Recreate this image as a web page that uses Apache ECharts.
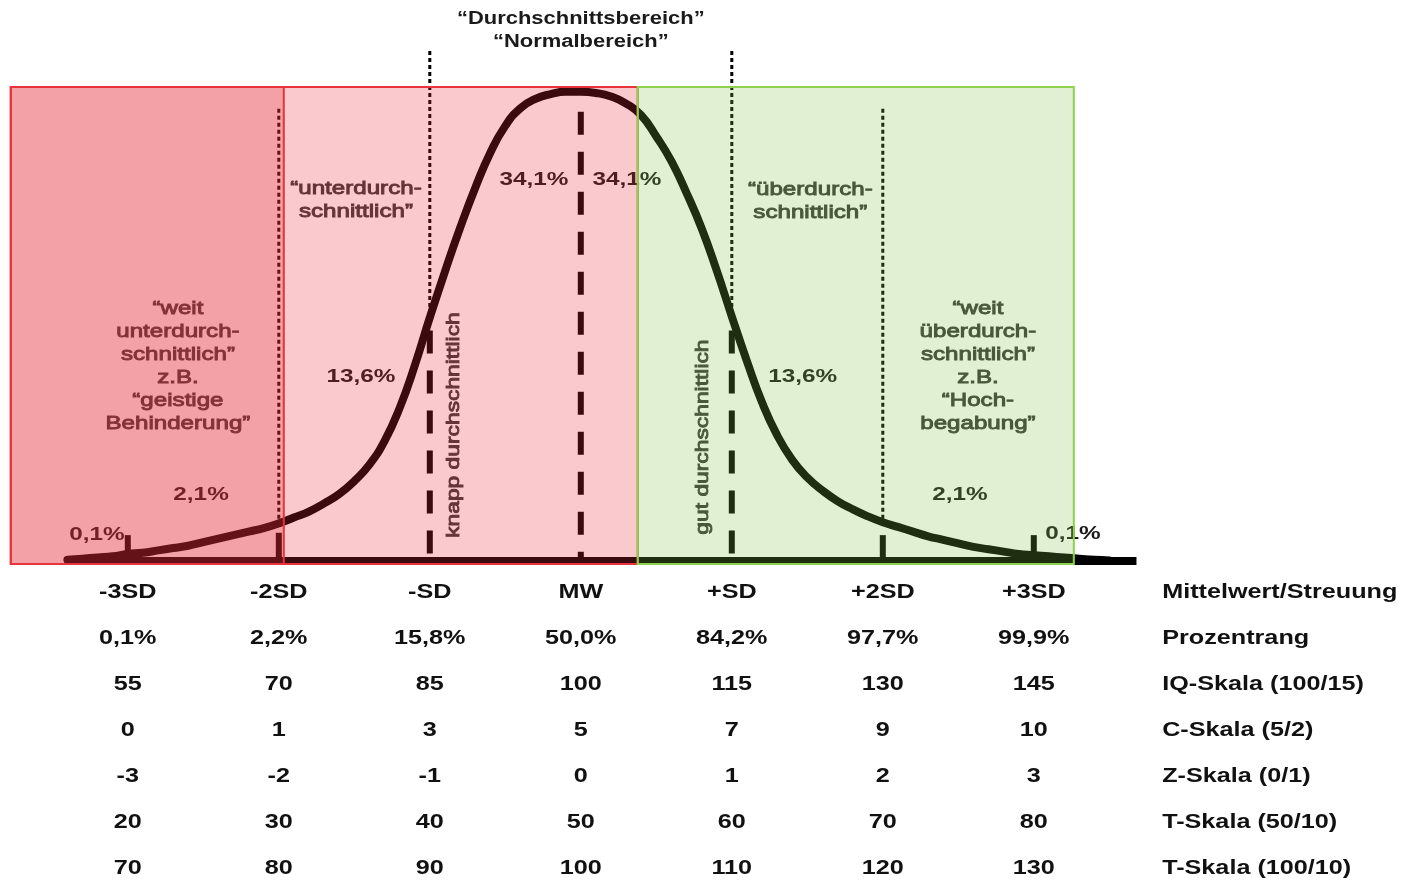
<!DOCTYPE html>
<html><head><meta charset="utf-8">
<script src="https://cdn.jsdelivr.net/npm/echarts@6/dist/echarts.min.js"></script>
<style>html,body{margin:0;padding:0;background:#fff;} #c{width:1404px;height:881px;}</style>
</head><body><div id="c"></div>
<script>
// ---------------- data ----------------
const sdPositions = [-3, -2, -1, 0, 1, 2, 3];

// curve (x in SD units, y as density)
const curveZ = [-3.4,-3.3,-3.2,-3.1,-3.0,-2.9,-2.8,-2.7,-2.6,-2.5,-2.4,-2.3,-2.2,-2.1,-2.0,-1.9,-1.8,-1.7,-1.6,-1.5,-1.4,-1.3,-1.2,-1.1,-1.0,
  -0.9,-0.8,-0.7,-0.6,-0.5,-0.4,-0.3,-0.2,-0.1,0,
  0.1,0.2,0.3,0.4,0.5,0.6,0.7,0.8,0.9,1.0,1.1,1.2,1.3,1.4,1.5,1.6,1.7,1.8,1.9,2.0,
  2.1,2.2,2.3,2.4,2.5,2.6,2.7,2.8,2.9,3.0,3.1,3.2,3.3,3.4,3.5];
const curveDensity = [0.001,0.002,0.003,0.004,0.006,0.007,0.009,0.011,0.013,0.016,0.019,0.022,0.025,0.028,0.032,0.037,0.042,0.049,0.057,0.068,0.082,0.102,0.130,0.166,0.207,
  0.246,0.283,0.317,0.347,0.370,0.385,0.393,0.397,0.399,0.399,
  0.398,0.395,0.389,0.379,0.361,0.340,0.313,0.283,0.247,0.208,0.170,0.135,0.107,0.086,0.071,0.060,0.051,0.044,0.038,0.033,
  0.029,0.025,0.021,0.018,0.015,0.012,0.010,0.008,0.006,0.005,0.004,0.003,0.002,0.001,0.0005];

const baselineExtent = [-3.4, 3.68];

// shaded regions [fromSD, toSD]
const regionRanges = [[-3.775, 0.377], [-3.775, -1.967], [0.377, 3.265]];
const regionHeight = [-0.0026, 0.403];

// guide lines [sd, fromDensity, toDensity]
const dottedGuides = [[-1, 0.21, 0.435], [1, 0.21, 0.435], [-2, 0.03, 0.386], [2, 0.03, 0.386]];
const dashedGuides = [[0, 0.382, 0], [-1, 0.196, 0], [1, 0.196, 0]];
const tickGuides = [[-3, 0.022, 0], [-2, 0.024, 0], [2, 0.022, 0], [3, 0.022, 0]];

// labels [text, sd, density]
const headerLabels = [['“Durchschnittsbereich”', 0, 0.4609], ['“Normalbereich”', 0, 0.4413]];
const percentLabels = [
  ['34,1%', -0.31, 0.324], ['34,1%', 0.306, 0.324],
  ['13,6%', -1.456, 0.1565], ['13,6%', 1.47, 0.1565],
  ['2,1%', -2.515, 0.0561], ['2,1%', 2.511, 0.0561],
  ['0,1%', -3.204, 0.0221], ['0,1%', 3.259, 0.023]
];
const categoryLabels = [
  ['“unterdurch-\nschnittlich”', -1.489, 0.3070],
  ['“überdurch-\nschnittlich”', 1.52, 0.3062],
  ['“weit\nunterdurch-\nschnittlich”\nz.B.\n“geistige\nBehinderung”', -2.668, 0.1654],
  ['“weit\nüberdurch-\nschnittlich”\nz.B.\n“Hoch-\nbegabung”', 2.63, 0.1654]
];
const verticalLabels = [['knapp durchschnittlich', -0.84, 0.1156], ['gut durchschnittlich', 0.809, 0.1054]];

// table
const rowLabels = ['Mittelwert/Streuung', 'Prozentrang', 'IQ-Skala (100/15)', 'C-Skala (5/2)', 'Z-Skala (0/1)', 'T-Skala (50/10)', 'T-Skala (100/10)'];
const sdNames = ['-3SD', '-2SD', '-SD', 'MW', '+SD', '+2SD', '+3SD'];
const percentRank = ['0,1%', '2,2%', '15,8%', '50,0%', '84,2%', '97,7%', '99,9%'];
const iqScale = ['55', '70', '85', '100', '115', '130', '145'];
const cScale = ['0', '1', '3', '5', '7', '9', '10'];
const zScale = ['-3', '-2', '-1', '0', '1', '2', '3'];
const tScale = ['20', '30', '40', '50', '60', '70', '80'];
const tScale100 = ['70', '80', '90', '100', '110', '120', '130'];
const rowLabelSD = 3.85;

// ---------------- chart ----------------
const FONT = "'Liberation Sans', Arial, Helvetica, sans-serif";
const chart = echarts.init(document.getElementById('c'), null, {renderer: 'canvas'});

function labelSeries(items, st, gi) {
  return {
    type: 'custom', coordinateSystem: 'cartesian2d', xAxisIndex: gi, yAxisIndex: gi,
    z: 3, silent: true, clip: false, animation: false,
    data: items.map(it => [it[1], it[2]]),
    encode: {x: 0, y: 1},
    renderItem: (params, api) => {
      const p = api.coord([api.value(0), api.value(1)]);
      return {
        type: 'text', x: p[0], y: p[1], rotation: st.rotation || 0, scaleX: st.scaleX || 1, scaleY: 1,
        style: {x: 0, y: 0, text: items[params.dataIndex][0], fill: st.color, fontFamily: FONT,
          fontSize: st.size, fontWeight: st.weight, align: st.align || 'center', verticalAlign: 'middle',
          lineHeight: st.lineHeight, stroke: st.stroke || null, lineWidth: st.strokeWidth || 0}
      };
    }
  };
}

function guideSeries(items, st) {
  return {
    type: 'custom', coordinateSystem: 'cartesian2d', xAxisIndex: 0, yAxisIndex: 0,
    z: 2, silent: true, clip: false, animation: false,
    data: items, encode: {x: 0, y: 1},
    renderItem: (params, api) => {
      const a = api.coord([api.value(0), api.value(1)]);
      const b = api.coord([api.value(0), api.value(2)]);
      return {type: 'line', shape: {x1: a[0], y1: a[1], x2: b[0], y2: b[1]},
        style: {stroke: '#000', lineWidth: st.width, lineDash: st.dash || null, lineCap: 'butt'}};
    }
  };
}

const tableItems = [];
[sdNames, percentRank, iqScale, cScale, zScale, tScale, tScale100].forEach((row, r) => {
  row.forEach((t, c) => tableItems.push([t, sdPositions[c], r]));
});
const rowLabelItems = rowLabels.map((t, r) => [t, rowLabelSD, r]);

const regionStyles = [
  {fill: 'rgba(232,40,56,0.25)', stroke: '#e8323c'},
  {fill: 'rgba(232,40,56,0.25)', stroke: '#e8323c'},
  {fill: 'rgba(129,192,67,0.24)', stroke: '#8dd150'}
];

const option = {
  animation: false,
  backgroundColor: '#fff',
  grid: [
    {left: 7, top: 8.28, width: 1389.2, height: 564.48},
    {left: 7, top: 569, width: 1389.2, height: 308.2}
  ],
  xAxis: [
    {gridIndex: 0, type: 'value', min: -3.8, max: 5.4, show: false},
    {gridIndex: 1, type: 'value', min: -3.8, max: 5.4, show: false}
  ],
  yAxis: [
    {gridIndex: 0, type: 'value', min: -0.01, max: 0.47, show: false},
    {gridIndex: 1, type: 'value', min: -0.5, max: 6.2, inverse: true, show: false}
  ],
  series: [
    {type: 'line', xAxisIndex: 0, yAxisIndex: 0, z: 2, silent: true, showSymbol: false,
      data: baselineExtent.map(v => [v, 0]), lineStyle: {color: '#000', width: 8}},
    {type: 'line', xAxisIndex: 0, yAxisIndex: 0, z: 2, silent: true, showSymbol: false, smooth: 0.5,
      data: curveZ.map((z, i) => [z, curveDensity[i]]), lineStyle: {color: '#000', width: 8, cap: 'round', join: 'round'}},
    guideSeries(dottedGuides, {width: 3, dash: [4, 3]}),
    guideSeries(dashedGuides, {width: 6, dash: [23, 17]}),
    guideSeries(tickGuides, {width: 6}),
    labelSeries(headerLabels, {size: 18, weight: 'bold', color: '#1a1a1a', scaleX: 1.22}, 0),
    labelSeries(percentLabels, {size: 19, weight: 'bold', color: '#1a1a1a', scaleX: 1.28}, 0),
    labelSeries(categoryLabels, {size: 19, weight: 'normal', color: '#383838', stroke: '#383838', strokeWidth: 0.9, scaleX: 1.27, lineHeight: 23}, 0),
    labelSeries(verticalLabels, {size: 19, weight: 'normal', color: '#383838', stroke: '#383838', strokeWidth: 0.9, scaleX: 1.2, rotation: Math.PI / 2}, 0),
    {
      type: 'custom', coordinateSystem: 'cartesian2d', xAxisIndex: 0, yAxisIndex: 0,
      z: 10, silent: true, clip: false,
      data: regionRanges.map(r => [r[0], r[1], regionHeight[0], regionHeight[1]]),
      encode: {x: [0, 1], y: [2, 3]},
      renderItem: (params, api) => {
        const p0 = api.coord([api.value(0), api.value(3)]);
        const p1 = api.coord([api.value(1), api.value(2)]);
        const s = regionStyles[params.dataIndex];
        return {type: 'rect', shape: {x: p0[0], y: p0[1], width: p1[0] - p0[0], height: p1[1] - p0[1]},
          style: {fill: s.fill, stroke: s.stroke, lineWidth: 2}};
      }
    },
    labelSeries(tableItems, {size: 20, weight: 'bold', color: '#111', scaleX: 1.26}, 1),
    labelSeries(rowLabelItems, {size: 20, weight: 'bold', color: '#111', scaleX: 1.26, align: 'left'}, 1)
  ]
};
chart.setOption(option);
</script>
</body></html>
